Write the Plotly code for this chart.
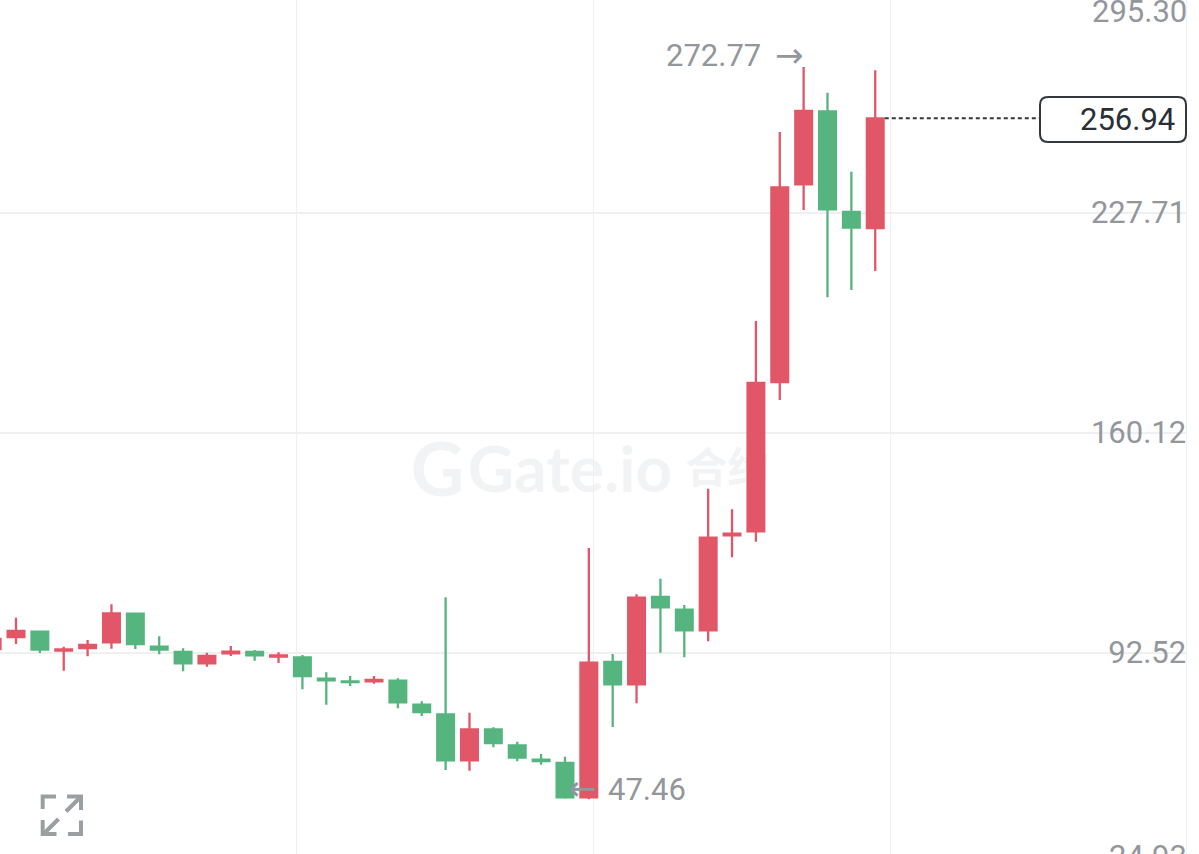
import plotly.graph_objects as go

# candles, oldest first (red = up, green = down)
open_ = [93.66, 97.35, 98.98, 93.20, 93.97, 95.72, 104.52, 94.37, 92.74, 89.26, 92.34, 92.74, 91.35,
         91.10, 84.52, 83.72, 83.72, 83.90, 76.52, 73.57, 59.41, 68.95, 64.03, 59.60, 58.58, 48.03,
         89.66, 82.80, 109.66, 105.75, 99.41, 128.64, 129.87, 175.81, 236.65, 259.11, 228.12, 223.20]
high = [98.27, 103.29, 99.20, 94.37, 96.43, 107.41, 104.83, 97.57, 93.87, 92.52, 94.58, 93.35, 92.64,
        91.81, 86.49, 85.35, 85.35, 84.64, 77.57, 109.57, 74.06, 69.57, 65.13, 61.35, 60.52, 124.74,
        92.12, 110.49, 115.29, 107.20, 142.98, 136.64, 194.58, 252.74, 272.77, 264.83, 240.52, 271.72]
low = [91.81, 95.20, 92.43, 86.98, 91.41, 93.75, 93.66, 92.03, 86.80, 88.21, 91.50, 90.06, 89.35,
       81.26, 76.52, 82.27, 82.98, 75.41, 73.04, 56.43, 56.21, 63.41, 59.10, 58.06, 47.60, 47.46,
       69.66, 76.95, 92.52, 91.10, 96.03, 121.87, 126.67, 170.28, 228.74, 201.88, 204.12, 209.97]
close = [96.74, 99.20, 93.44, 93.50, 94.89, 104.64, 95.20, 93.44, 89.26, 91.50, 92.83, 91.72, 91.66,
         85.35, 84.03, 83.50, 84.12, 77.26, 74.27, 59.41, 68.95, 64.73, 60.21, 59.20, 48.03, 89.44,
         82.80, 109.44, 106.49, 99.41, 127.91, 129.14, 175.51, 235.72, 259.20, 228.95, 223.29, 256.94]
candle_index = list(range(len(close)))

price_ticks = [92.52, 160.12, 227.71]
price_labels = ["92.52", "160.12", "227.71"]
edge_labels = ["295.30", "24.93"]
time_grid = [0.37, 12.76, 25.19, 37.63]

x_range = [0.33, 50.02]
y_range = [30.58, 293.35]

UP = "#e25767"
DOWN = "#56b57f"
GRID = "#eef0f2"
MUTED = "#93979c"
DARK = "#2a2e35"
FONT = "Roboto"
W, H = 1186, 854  # plot area in px


def px(x, y):
    return f"{x / W:.5f},{1 - y / H:.5f}"


def path(*pts):
    return "M" + " L".join(px(*p) for p in pts)


def note(text, x, y, anchor, family=FONT, size=31, color=MUTED, xshift=0):
    return dict(xref="paper", yref="paper", x=x / W, y=1 - y / H, xanchor=anchor, yanchor="middle",
                showarrow=False, borderpad=0, xshift=xshift, text=text,
                font=dict(family=family, size=size, color=color))


fig = go.Figure()
fig.add_trace(go.Candlestick(x=candle_index, open=open_, high=high, low=low, close=close,
                             increasing=dict(line=dict(color=UP, width=2.3), fillcolor=UP),
                             decreasing=dict(line=dict(color=DOWN, width=2.3), fillcolor=DOWN),
                             whiskerwidth=0, showlegend=False, hoverinfo="skip"))

shapes = []

# watermark sits under the candles, so it goes in below-layer shape labels
for text, x0, x1, y0, y1, size, weight in [("G", 405, 470, 432, 500, 74, "bold"),
                                           ("Gate.io", 465, 675, 435, 497, 64, "bold"),
                                           ("合约", 680, 775, 440, 492, 42, "bold")]:
    shapes.append(dict(type="rect", xref="paper", yref="paper", layer="below",
                       x0=x0 / W, x1=x1 / W, y0=1 - y1 / H, y1=1 - y0 / H,
                       line=dict(width=0), fillcolor="rgba(0,0,0,0)",
                       label=dict(text=text, textposition="middle center",
                                  font=dict(family="Lato, Noto Sans CJK SC", size=size,
                                            color="#f2f3f4", weight=weight))))

# last price leader and box
shapes.append(dict(type="line", xref="x", yref="y", x0=37.4, x1=43.9, y0=close[-1], y1=close[-1],
                   line=dict(color="#33373d", width=2, dash="4px,3px")))
bx0, bx1, by0, by1, r = 1040, 1186, 97, 142, 8
box = ("M" + px(bx0 + r, by0) + " L" + px(bx1 - r, by0) + " Q" + px(bx1, by0) + " " + px(bx1, by0 + r)
       + " L" + px(bx1, by1 - r) + " Q" + px(bx1, by1) + " " + px(bx1 - r, by1)
       + " L" + px(bx0 + r, by1) + " Q" + px(bx0, by1) + " " + px(bx0, by1 - r)
       + " L" + px(bx0, by0 + r) + " Q" + px(bx0, by0) + " " + px(bx0 + r, by0) + " Z")
shapes.append(dict(type="path", xref="paper", yref="paper", path=box, fillcolor="white",
                   line=dict(color="#33373d", width=2)))

# expand icon, bottom left
icon = [path((42.7, 809), (42.7, 796.5), (56, 796.5)),
        path((66, 811.5), (80.5, 797)),
        path((67, 796.5), (81, 796.5), (81, 810)),
        path((58.5, 819), (44, 833.5)),
        path((42.7, 820), (42.7, 834), (56.5, 834)),
        path((81, 820.5), (81, 834), (68, 834))]
for p in icon:
    shapes.append(dict(type="path", xref="paper", yref="paper", path=p,
                       line=dict(color="#9c9fa2", width=4)))

annotations = [
    note(edge_labels[0], W, 11, "right", xshift=2),
    note(edge_labels[1], W, 857, "right", xshift=2),
    note(f"{close[-1]:.2f}", 1176, 119, "right", color=DARK),
    note(f"{max(high):.2f}", 762, 56, "right"),
    note("→", 789, 55, "center", family="DejaVu Sans", size=34),
    note(f"{min(low):.2f}", 607, 789, "left"),
    note("←", 582, 788, "center", family="DejaVu Sans", size=34),
]

fig.update_layout(width=1199, height=854, margin=dict(l=0, r=13, t=0, b=0),
                  paper_bgcolor="white", plot_bgcolor="white",
                  boxgap=0.3, boxgroupgap=0, hovermode=False,
                  shapes=shapes, annotations=annotations,
                  xaxis=dict(range=x_range, rangeslider=dict(visible=False), tickvals=time_grid,
                             showticklabels=False, ticks="", gridcolor=GRID, gridwidth=1, zeroline=False),
                  yaxis=dict(range=y_range, side="right", tickvals=price_ticks, ticktext=price_labels,
                             ticklabelposition="inside", ticklabelstandoff=3, ticklabelshift=-1,
                             ticks="", gridcolor=GRID, gridwidth=1.5,
                             zeroline=False, showline=True, linecolor=GRID, linewidth=1,
                             tickfont=dict(family=FONT, size=31, color=MUTED)))

fig.write_html("out.html", config={"displayModeBar": False},
               post_script="document.body.style.margin='0';")
